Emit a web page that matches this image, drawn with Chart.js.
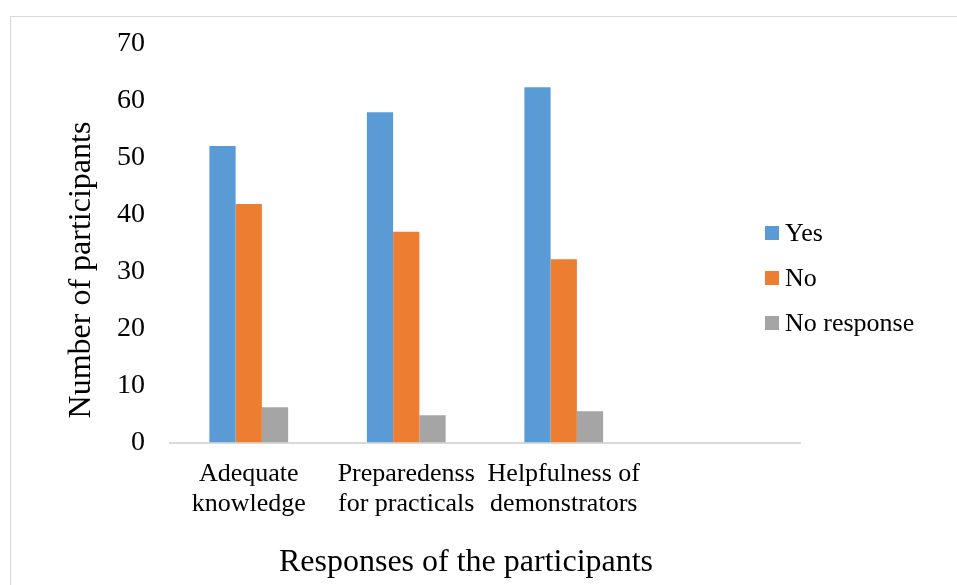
<!DOCTYPE html>
<html>
<head>
<meta charset="utf-8">
<script src="https://cdn.jsdelivr.net/npm/chart.js@4/dist/chart.umd.min.js"></script>
<style>
  html, body { margin: 0; padding: 0; background: #fff; }
  canvas { display: block; }
</style>
</head>
<body>
<canvas id="chart" width="957" height="585"></canvas>
<script>
// Survey responses per question (values per group of participants)
const categories = [
  ['Adequate', 'knowledge'],
  ['Preparedenss', 'for practicals'],
  ['Helpfulness of', 'demonstrators'],
  ''
];
const seriesNames = ['Yes', 'No', 'No response'];
const yesValues = [52.1, 58.0, 62.4];
const noValues = [41.9, 37.0, 32.2];
const noResponseValues = [6.2, 4.8, 5.5];
const yTicks = [0, 10, 20, 30, 40, 50, 60, 70];
const xTitle = 'Responses of the participants';
const yTitle = 'Number of participants';

const seriesColors = ['#5B9BD5', '#ED7D31', '#A5A5A5'];
const FONT = "'Liberation Serif', 'DejaVu Serif', serif";
const INK = '#000';

// Frame, axis titles and the legend drawn over the plot
const decorations = {
  id: 'decorations',
  beforeDraw(chart) {
    const ctx = chart.ctx;
    ctx.save();
    ctx.fillStyle = '#fff';
    ctx.fillRect(0, 0, chart.width, chart.height);
    ctx.strokeStyle = '#d9d9d9';
    ctx.lineWidth = 1;
    ctx.beginPath();
    ctx.moveTo(10.5, chart.height);
    ctx.lineTo(10.5, 16.5);
    ctx.lineTo(chart.width, 16.5);
    ctx.stroke();
    ctx.restore();
  },
  afterDraw(chart) {
    const ctx = chart.ctx;
    ctx.save();
    ctx.fillStyle = INK;
    ctx.font = '32px ' + FONT;
    ctx.textAlign = 'center';
    ctx.textBaseline = 'middle';
    ctx.fillText(xTitle, 466, 563);
    ctx.save();
    ctx.translate(82, 270);
    ctx.rotate(-Math.PI / 2);
    ctx.fillText(yTitle, 0, 0);
    ctx.restore();

    // legend
    ctx.font = '26px ' + FONT;
    ctx.textAlign = 'left';
    chart.data.datasets.forEach((ds, i) => {
      const cy = 233 + i * 45;
      ctx.fillStyle = ds.backgroundColor;
      ctx.fillRect(765, cy - 7, 14, 14);
      ctx.fillStyle = INK;
      ctx.fillText(ds.label, 785, cy + 1);
    });
    ctx.restore();
  }
};

new Chart(document.getElementById('chart'), {
  type: 'bar',
  data: {
    labels: categories,
    datasets: [
      { label: seriesNames[0], data: yesValues, backgroundColor: seriesColors[0] },
      { label: seriesNames[1], data: noValues, backgroundColor: seriesColors[1] },
      { label: seriesNames[2], data: noResponseValues, backgroundColor: seriesColors[2] }
    ]
  },
  options: {
    responsive: false,
    devicePixelRatio: 1,
    animation: false,
    layout: { padding: { top: 44, right: 157, bottom: 0, left: 0 } },
    datasets: {
      bar: { categoryPercentage: 0.5, barPercentage: 1.0, borderWidth: 0 }
    },
    plugins: {
      legend: { display: false },
      tooltip: { enabled: false },
      title: { display: false }
    },
    scales: {
      x: {
        offset: true,
        grid: { display: false, drawTicks: false, tickLength: 0 },
        border: { display: true, color: '#d9d9d9', width: 2 },
        ticks: {
          color: INK,
          font: { family: FONT, size: 26, lineHeight: 1.15 },
          padding: 17,
          maxRotation: 0,
          minRotation: 0,
          autoSkip: false
        },
        afterFit(scale) { scale.height = 142.5; }
      },
      y: {
        min: 0,
        max: 70,
        grid: { display: false, drawTicks: false, tickLength: 0 },
        border: { display: false },
        ticks: {
          color: INK,
          font: { family: FONT, size: 28 },
          padding: 25
        },
        afterBuildTicks(scale) { scale.ticks = yTicks.map(v => ({ value: v })); },
        afterFit(scale) { scale.width = 170; }
      }
    }
  },
  plugins: [decorations]
});
</script>
</body>
</html>
